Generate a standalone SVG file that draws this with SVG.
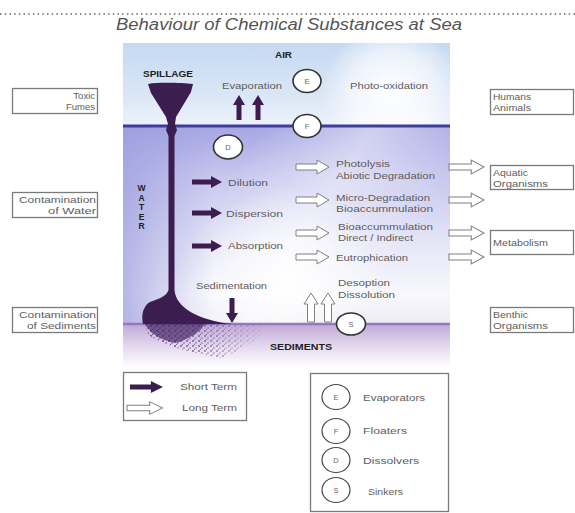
<svg xmlns="http://www.w3.org/2000/svg" width="575" height="513" viewBox="0 0 575 513">
  <style>
    .t { font-family: "Liberation Sans", Arial, sans-serif; font-size: 9.5px; fill: #5e5e5e; }
    .bt { font-family: "Liberation Sans", Arial, sans-serif; font-size: 8.5px; font-weight: bold; fill: #222; }
    .box { fill: #fff; stroke: #7a7a7a; stroke-width: 1.3; }
    .ring { fill: #fff; stroke: #333; stroke-width: 1.6; }
    .ringL { fill: #fff; stroke: #444; stroke-width: 1.2; }
    .ct { font-family: "Liberation Sans", Arial, sans-serif; font-size: 7.5px; fill: #666; text-anchor: middle; }
    .solid { fill: #3b1d4f; }
    .hollow { fill: #fff; stroke: #808080; stroke-width: 1; }
  </style>
  <defs>
    <linearGradient id="airG" x1="0" y1="43" x2="0" y2="126" gradientUnits="userSpaceOnUse">
      <stop offset="0" stop-color="#c5d9f1"/>
      <stop offset="0.6" stop-color="#d9e6f6"/>
      <stop offset="1" stop-color="#edf2fb"/>
    </linearGradient>
    <radialGradient id="cloudG" cx="392" cy="92" r="70" gradientUnits="userSpaceOnUse">
      <stop offset="0" stop-color="#fff" stop-opacity="1"/>
      <stop offset="0.6" stop-color="#fff" stop-opacity="0.6"/>
      <stop offset="1" stop-color="#fff" stop-opacity="0"/>
    </radialGradient>
    <linearGradient id="waterG" x1="0" y1="126" x2="0" y2="324" gradientUnits="userSpaceOnUse">
      <stop offset="0" stop-color="#a6a6e3"/>
      <stop offset="0.25" stop-color="#c6c6ef"/>
      <stop offset="0.6" stop-color="#e6e6f7"/>
      <stop offset="0.85" stop-color="#f8f8fd"/>
      <stop offset="1" stop-color="#ececf4"/>
    </linearGradient>
    <linearGradient id="waterL" x1="123" y1="0" x2="215" y2="0" gradientUnits="userSpaceOnUse">
      <stop offset="0" stop-color="#9c9cde" stop-opacity="0.7"/>
      <stop offset="1" stop-color="#9c9cde" stop-opacity="0"/>
    </linearGradient>
    <linearGradient id="streakG" x1="260" y1="130" x2="420" y2="230" gradientUnits="userSpaceOnUse">
      <stop offset="0" stop-color="#fff" stop-opacity="0"/>
      <stop offset="0.5" stop-color="#fff" stop-opacity="0.45"/>
      <stop offset="1" stop-color="#fff" stop-opacity="0"/>
    </linearGradient>
    <radialGradient id="glowG" cx="290" cy="275" r="90" gradientUnits="userSpaceOnUse">
      <stop offset="0" stop-color="#fff" stop-opacity="0.9"/>
      <stop offset="1" stop-color="#fff" stop-opacity="0"/>
    </radialGradient>
    <linearGradient id="sedG" x1="0" y1="324" x2="0" y2="368" gradientUnits="userSpaceOnUse">
      <stop offset="0" stop-color="#c0a9d8"/>
      <stop offset="0.55" stop-color="#e6dcf0"/>
      <stop offset="1" stop-color="#fff"/>
    </linearGradient>
    <linearGradient id="spillFade" x1="145" y1="0" x2="270" y2="0" gradientUnits="userSpaceOnUse">
      <stop offset="0" stop-color="#fff" stop-opacity="1"/>
      <stop offset="0.45" stop-color="#fff" stop-opacity="0.7"/>
      <stop offset="1" stop-color="#fff" stop-opacity="0"/>
    </linearGradient>
    <mask id="speckMask">
      <rect x="140" y="320" width="135" height="45" fill="url(#spillFade)"/>
    </mask>
    <pattern id="speck" width="6" height="5" patternUnits="userSpaceOnUse">
      <circle cx="1" cy="1" r="0.9" fill="#4a2a68"/>
      <circle cx="4" cy="3" r="0.8" fill="#5a3a7a"/>
      <circle cx="2.5" cy="4.3" r="0.6" fill="#4a2a68"/>
    </pattern>
    <!-- arrow shapes -->
    <path id="fRight" d="M0,-2.5 H19 V-6 L30,0 L19,6 V2.5 H0 Z"/>
    <path id="hRight" d="M0,-3 H21 V-7 L33,0 L21,7 V3 H0 Z"/>
    <path id="fUp" d="M-2.5,25 V10 H-6 L0,0 L6,10 H2.5 V25 Z"/>
    <path id="hUp" d="M-3.5,29 V11 H-7 L0,0 L7,11 H3.5 V29 Z"/>
  </defs>

  <rect width="575" height="513" fill="#fff"/>

  <!-- header -->
  <line x1="0" y1="14" x2="575" y2="14" stroke="#666" stroke-width="1.5" stroke-dasharray="1.5 3.2"/>
  <text x="116" y="30" font-family="'Liberation Sans', Arial, sans-serif" font-size="16" font-style="italic" fill="#555" textLength="346" lengthAdjust="spacingAndGlyphs">Behaviour of Chemical Substances at Sea</text>

  <!-- sea cross-section -->
  <g id="scene">
    <rect x="123" y="43" width="327" height="83" fill="url(#airG)"/>
    <rect x="123" y="43" width="327" height="83" fill="url(#cloudG)"/>
    <rect x="123" y="126" width="327" height="198" fill="url(#waterG)"/>
    <rect x="123" y="126" width="327" height="198" fill="url(#waterL)"/>
    <rect x="123" y="126" width="327" height="198" fill="url(#streakG)"/>
    <rect x="123" y="126" width="327" height="198" fill="url(#glowG)"/>
    <rect x="123" y="324" width="327" height="43" fill="url(#sedG)"/>
    <line x1="123" y1="126" x2="450" y2="126" stroke="#3d3d9c" stroke-width="3"/>
    <line x1="123" y1="324" x2="450" y2="324" stroke="#9877bd" stroke-width="2.5"/>

    <!-- oil spill: funnel, stem and seabed deposit -->
    <path class="solid" d="M148,84 C160,82 182,83 193,84 L191,92 L176,117 L175,124 L177,130 L174.5,136 L174.5,290 C176,308 198,320 232,324 L143,324 C141,316 143,306 150,302 C158,299 166,297 168.5,290 L168.5,136 L166,130 L168,124 L166,117 L151,93 Z"/>
    <path d="M145,324 L270,324 C264,334 248,348 222,358 C196,354 162,346 148,334 Z" fill="url(#speck)" mask="url(#speckMask)"/>
    <path d="M145,324 L205,324 C198,333 188,340 175,343 C160,340 150,333 145,324 Z" fill="#4a2a66" opacity="0.7"/>

    <text class="bt" x="143" y="77" textLength="50" lengthAdjust="spacingAndGlyphs">SPILLAGE</text>
    <text class="bt" x="275" y="58" textLength="17" lengthAdjust="spacingAndGlyphs">AIR</text>
    <text class="bt" x="270" y="350" textLength="62" lengthAdjust="spacingAndGlyphs">SEDIMENTS</text>
    <g class="bt" text-anchor="middle" font-size="8">
      <text x="141.5" y="191">W</text>
      <text x="141.5" y="200.5">A</text>
      <text x="141.5" y="210">T</text>
      <text x="141.5" y="219.5">E</text>
      <text x="141.5" y="229">R</text>
    </g>

    <text class="t" x="222" y="89" textLength="60" lengthAdjust="spacingAndGlyphs">Evaporation</text>
    <text class="t" x="350" y="89" textLength="78" lengthAdjust="spacingAndGlyphs">Photo-oxidation</text>
    <text class="t" x="228" y="186" textLength="40" lengthAdjust="spacingAndGlyphs">Dilution</text>
    <text class="t" x="226" y="217" textLength="57" lengthAdjust="spacingAndGlyphs">Dispersion</text>
    <text class="t" x="228" y="249" textLength="55" lengthAdjust="spacingAndGlyphs">Absorption</text>
    <text class="t" x="196" y="289" textLength="71" lengthAdjust="spacingAndGlyphs">Sedimentation</text>
    <text class="t" x="336" y="167" textLength="54" lengthAdjust="spacingAndGlyphs">Photolysis</text>
    <text class="t" x="336" y="179" textLength="99" lengthAdjust="spacingAndGlyphs">Abiotic Degradation</text>
    <text class="t" x="336" y="201" textLength="94" lengthAdjust="spacingAndGlyphs">Micro-Degradation</text>
    <text class="t" x="336" y="212" textLength="97" lengthAdjust="spacingAndGlyphs">Bioaccummulation</text>
    <text class="t" x="338" y="230" textLength="95" lengthAdjust="spacingAndGlyphs">Bioaccummulation</text>
    <text class="t" x="338" y="241" textLength="75" lengthAdjust="spacingAndGlyphs">Direct / Indirect</text>
    <text class="t" x="336" y="261" textLength="72" lengthAdjust="spacingAndGlyphs">Eutrophication</text>
    <text class="t" x="338" y="286" textLength="52" lengthAdjust="spacingAndGlyphs">Desoption</text>
    <text class="t" x="338" y="298" textLength="57" lengthAdjust="spacingAndGlyphs">Dissolution</text>
  </g>

  <!-- behaviour markers on the section -->
  <g id="marker-E"><ellipse class="ring" cx="307" cy="81" rx="14" ry="11.5"/><text class="ct" x="307" y="84">E</text></g>
  <g id="marker-F"><ellipse class="ring" cx="307" cy="126" rx="14" ry="11.5"/><text class="ct" x="307" y="129">F</text></g>
  <g id="marker-D"><ellipse class="ring" cx="228" cy="147" rx="14.5" ry="12"/><text class="ct" x="228" y="150">D</text></g>
  <g id="marker-S"><ellipse class="ring" cx="351" cy="324" rx="14.5" ry="11"/><text class="ct" x="351" y="327">S</text></g>

  <!-- side boxes -->
  <g id="toxic-fumes">
    <rect class="box" x="12.5" y="88.5" width="85" height="25"/>
    <text class="t" x="95" y="99" text-anchor="end" font-size="9">Toxic</text>
    <text class="t" x="95" y="110" text-anchor="end" font-size="9">Fumes</text>
  </g>
  <g id="contamination-water">
    <rect class="box" x="12.5" y="192.5" width="85" height="25"/>
    <text class="t" x="96" y="203" text-anchor="end" font-size="9" textLength="77" lengthAdjust="spacingAndGlyphs">Contamination</text>
    <text class="t" x="96" y="214" text-anchor="end" font-size="9" textLength="48" lengthAdjust="spacingAndGlyphs">of Water</text>
  </g>
  <g id="contamination-sediments">
    <rect class="box" x="12.5" y="307.5" width="85" height="25"/>
    <text class="t" x="96" y="318" text-anchor="end" font-size="9" textLength="77" lengthAdjust="spacingAndGlyphs">Contamination</text>
    <text class="t" x="96" y="329" text-anchor="end" font-size="9" textLength="69" lengthAdjust="spacingAndGlyphs">of Sediments</text>
  </g>
  <g id="humans-animals">
    <rect class="box" x="490.5" y="89.5" width="83" height="25"/>
    <text class="t" x="493" y="100" font-size="9" textLength="38" lengthAdjust="spacingAndGlyphs">Humans</text>
    <text class="t" x="493" y="111" font-size="9" textLength="38" lengthAdjust="spacingAndGlyphs">Animals</text>
  </g>
  <g id="aquatic-organisms">
    <rect class="box" x="490.5" y="165.5" width="83" height="24"/>
    <text class="t" x="493" y="176" font-size="9" textLength="35" lengthAdjust="spacingAndGlyphs">Aquatic</text>
    <text class="t" x="493" y="187" font-size="9" textLength="55" lengthAdjust="spacingAndGlyphs">Organisms</text>
  </g>
  <g id="metabolism">
    <rect class="box" x="490.5" y="230.5" width="83" height="24"/>
    <text class="t" x="493" y="246" font-size="9" textLength="55" lengthAdjust="spacingAndGlyphs">Metabolism</text>
  </g>
  <g id="benthic-organisms">
    <rect class="box" x="490.5" y="307.5" width="83" height="25"/>
    <text class="t" x="493" y="318" font-size="9" textLength="35" lengthAdjust="spacingAndGlyphs">Benthic</text>
    <text class="t" x="493" y="329" font-size="9" textLength="55" lengthAdjust="spacingAndGlyphs">Organisms</text>
  </g>

  <!-- process arrows -->
  <g id="connectors">
    <use href="#fUp" class="solid" transform="translate(239,95)"/>
    <use href="#fUp" class="solid" transform="translate(258,95)"/>
    <use href="#fRight" class="solid" transform="translate(192,182)"/>
    <use href="#fRight" class="solid" transform="translate(192,213)"/>
    <use href="#fRight" class="solid" transform="translate(192,246)"/>
    <use href="#fUp" class="solid" transform="translate(232,323) rotate(180)"/>
    <use href="#hRight" class="hollow" transform="translate(296,167)"/>
    <use href="#hRight" class="hollow" transform="translate(296,200)"/>
    <use href="#hRight" class="hollow" transform="translate(296,233)"/>
    <use href="#hRight" class="hollow" transform="translate(296,257)"/>
    <use href="#hRight" class="hollow" transform="translate(449,167) scale(1.06,1)"/>
    <use href="#hRight" class="hollow" transform="translate(449,200) scale(1.06,1)"/>
    <use href="#hRight" class="hollow" transform="translate(449,233) scale(1.06,1)"/>
    <use href="#hRight" class="hollow" transform="translate(449,257) scale(1.06,1)"/>
    <use href="#hUp" class="hollow" transform="translate(311,293)"/>
    <use href="#hUp" class="hollow" transform="translate(328,293)"/>
  </g>

  <!-- arrow key -->
  <g id="legend-terms">
    <rect class="box" x="123.5" y="372.5" width="123" height="48"/>
    <use href="#fRight" class="solid" transform="translate(130,387) scale(1.1,1)"/>
    <use href="#hRight" class="hollow" transform="translate(127,408) scale(1.08,0.9)"/>
    <text class="t" x="180" y="390" font-size="9.5" textLength="57" lengthAdjust="spacingAndGlyphs">Short Term</text>
    <text class="t" x="182" y="411" font-size="9.5" textLength="55" lengthAdjust="spacingAndGlyphs">Long Term</text>
  </g>

  <!-- marker key -->
  <g id="legend-markers">
    <rect class="box" x="310.5" y="373.5" width="138" height="138"/>
    <ellipse class="ringL" cx="336" cy="397" rx="14" ry="12.5"/><text class="ct" x="336" y="400">E</text>
    <ellipse class="ringL" cx="336" cy="431" rx="14" ry="12.5"/><text class="ct" x="336" y="434">F</text>
    <ellipse class="ringL" cx="336" cy="460" rx="14" ry="12.5"/><text class="ct" x="336" y="463">D</text>
    <ellipse class="ringL" cx="336" cy="490" rx="14" ry="12.5"/><text class="ct" x="336" y="493">S</text>
    <text class="t" x="363" y="401" font-size="9.5" textLength="62" lengthAdjust="spacingAndGlyphs">Evaporators</text>
    <text class="t" x="363" y="434" font-size="9.5" textLength="44" lengthAdjust="spacingAndGlyphs">Floaters</text>
    <text class="t" x="363" y="464" font-size="9.5" textLength="56" lengthAdjust="spacingAndGlyphs">Dissolvers</text>
    <text class="t" x="368" y="495" font-size="9.5" textLength="35" lengthAdjust="spacingAndGlyphs">Sinkers</text>
  </g>
</svg>
